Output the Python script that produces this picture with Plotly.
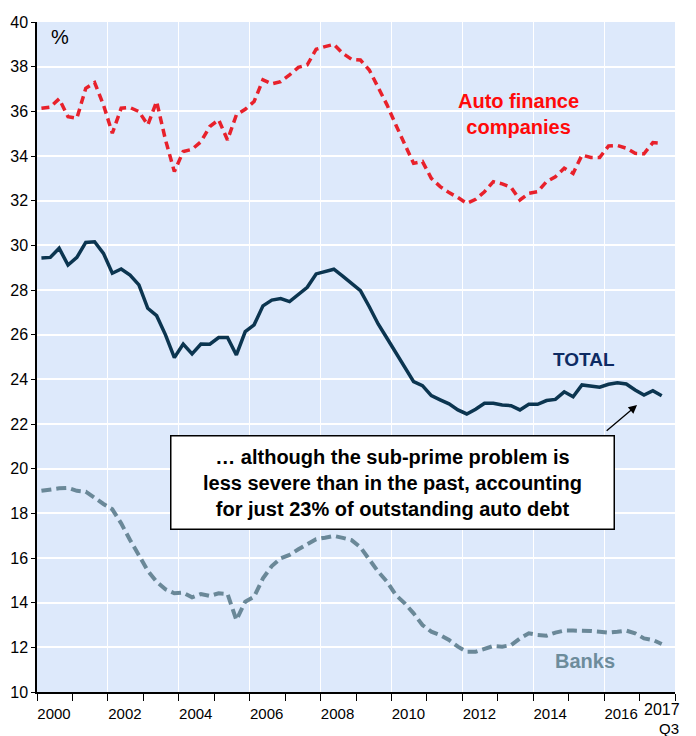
import plotly.graph_objects as go

# Quarterly data, 2000Q1 .. 2017Q3 (share of sub-prime auto loans, %)
quarters = [f"{y}Q{q}" for y in range(2000, 2018) for q in range(1, 5)][:71]

auto_finance = [36.14, 36.19, 36.56, 35.76, 35.69, 37.03, 37.29, 36.29, 35.02, 36.14,
                36.17, 35.99, 35.39, 36.44, 34.72, 33.30, 34.20, 34.30, 34.64, 35.32,
                35.62, 34.72, 35.84, 36.09, 36.44, 37.41, 37.23, 37.33, 37.63, 37.97,
                38.08, 38.78, 38.90, 39.00, 38.60, 38.33, 38.30, 37.85, 37.07, 36.29,
                35.39, 34.54, 33.67, 33.75, 33.00, 32.63, 32.36, 32.14, 31.88, 32.06,
                32.40, 32.85, 32.75, 32.60, 32.03, 32.33, 32.40, 32.85, 33.07, 33.45,
                33.22, 34.04, 33.93, 33.93, 34.45, 34.47, 34.35, 34.12, 34.10, 34.60,
                34.57]

total = [29.43, 29.46, 29.87, 29.12, 29.46, 30.13, 30.16, 29.64, 28.75, 28.94,
         28.67, 28.23, 27.18, 26.85, 25.99, 24.97, 25.58, 25.14, 25.58, 25.57,
         25.87, 25.87, 25.09, 26.14, 26.44, 27.29, 27.55, 27.62, 27.48, 27.81,
         28.12, 28.72, 28.82, 28.93, 28.62, 28.30, 27.97, 27.25, 26.48, 25.84,
         25.17, 24.57, 23.90, 23.72, 23.27, 23.08, 22.90, 22.63, 22.45, 22.66,
         22.93, 22.93, 22.85, 22.82, 22.63, 22.88, 22.88, 23.05, 23.10, 23.44,
         23.22, 23.75, 23.70, 23.65, 23.78, 23.85, 23.79, 23.52, 23.30, 23.49,
         23.26]

banks = [19.01, 19.07, 19.12, 19.14, 19.01, 18.97, 18.67, 18.42, 18.18, 17.55,
         16.81, 16.14, 15.43, 14.94, 14.60, 14.42, 14.45, 14.24, 14.39, 14.30,
         14.42, 14.39, 13.22, 14.04, 14.27, 15.09, 15.64, 15.99, 16.14, 16.39,
         16.63, 16.84, 16.91, 16.99, 16.90, 16.80, 16.48, 15.91, 15.39, 14.94,
         14.34, 13.97, 13.52, 13.00, 12.70, 12.55, 12.33, 12.03, 11.80, 11.80,
         11.91, 12.06, 12.03, 12.10, 12.40, 12.63, 12.55, 12.52, 12.66, 12.75,
         12.75, 12.75, 12.73, 12.70, 12.66, 12.70, 12.75, 12.63, 12.40, 12.33,
         12.15]

year_ticks = list(range(2000, 2017, 2))
year_labels = [str(y) for y in year_ticks]


def to_decimal(q):
    y, qq = q.split("Q")
    return int(y) + (int(qq) - 1) * 0.25 + 0.125


x = [to_decimal(q) for q in quarters]

TICKFONT = "Liberation Sans Narrow, Arial Narrow, Liberation Sans, Arial, sans-serif"
BOLD = "Liberation Sans, Arial, sans-serif"

fig = go.Figure()
fig.add_trace(go.Scatter(x=x, y=banks, mode="lines",
                         line=dict(color="#6a8898", width=4, dash="10px,5px"),
                         hoverinfo="skip"))
fig.add_trace(go.Scatter(x=x, y=auto_finance, mode="lines",
                         line=dict(color="#e8212b", width=3.5, dash="8px,5px"),
                         hoverinfo="skip"))
fig.add_trace(go.Scatter(x=x, y=total, mode="lines",
                         line=dict(color="#0b3550", width=3.5),
                         hoverinfo="skip"))

# page body has an 8px default margin, so the figure is 8px smaller
fig.update_layout(
    width=688, height=728,
    margin=dict(l=29, r=21, t=14, b=44, autoexpand=False),
    paper_bgcolor="white",
    plot_bgcolor="#dde9fb",
    showlegend=False,
    font=dict(family=TICKFONT, size=16, color="black"),
)

fig.update_xaxes(
    range=[2000, 2018], automargin=False,
    tickmode="array", tickvals=year_ticks, ticktext=year_labels,
    ticklabelshift=17, ticks="outside", ticklen=7, tickwidth=1.2, tickcolor="black",
    showgrid=True, gridcolor="white", gridwidth=1.2,
    showline=True, linecolor="black", linewidth=2,
    zeroline=False,
    tickfont=dict(family=TICKFONT, size=15),
    minor=dict(tickmode="linear", tick0=2000, dtick=1, ticks="outside",
               ticklen=7, tickwidth=1.2, tickcolor="black", showgrid=False),
)
fig.update_yaxes(
    range=[10, 40], dtick=2, tick0=10, automargin=False,
    ticks="outside", ticklen=4, tickwidth=1.2, tickcolor="black",
    showgrid=True, gridcolor="white", gridwidth=1.5,
    showline=True, linecolor="black", linewidth=1.5,
    zeroline=False,
    tickfont=dict(family=TICKFONT, size=16),
)

annotations = [
    dict(x=2000.65, y=39.33, text="%", showarrow=False,
         font=dict(family=BOLD, size=20, color="black")),
    dict(x=2013.58, y=35.9, text="<b>Auto finance<br>companies</b>", showarrow=False,
         font=dict(family=BOLD, size=20, color="#ff0a0a")),
    dict(x=2015.44, y=24.87, text="<b>TOTAL</b>", showarrow=False,
         font=dict(family=BOLD, size=19, color="#0d2b63")),
    dict(x=2015.47, y=11.39, text="<b>Banks</b>", showarrow=False,
         font=dict(family=BOLD, size=20, color="#6d8c9b")),
    dict(x=2016.93, y=22.85, ax=2016.03, ay=21.64, axref="x", ayref="y",
         text="", showarrow=True, arrowhead=2, arrowsize=1.3, arrowwidth=1.3,
         arrowcolor="black"),
    dict(x=2010.03, y=19.4,
         text="<b>… although the sub-prime problem is<br>less severe than in the past, accounting<br>for just 23% of outstanding auto debt</b>",
         showarrow=False, align="center", bgcolor="white",
         bordercolor="black", borderwidth=1.5, width=440, height=90,
         font=dict(family=BOLD, size=20, color="black")),
    dict(xref="paper", yref="paper", x=0.98, y=-0.026, xanchor="center", yanchor="middle",
         text="2017", showarrow=False,
         font=dict(family=BOLD, size=16, color="black")),
    dict(xref="paper", yref="paper", x=0.99, y=-0.055, xanchor="center", yanchor="middle",
         text="Q3", showarrow=False,
         font=dict(family=BOLD, size=15, color="black")),
]
fig.update_layout(annotations=annotations)

fig.write_html("out.html")
